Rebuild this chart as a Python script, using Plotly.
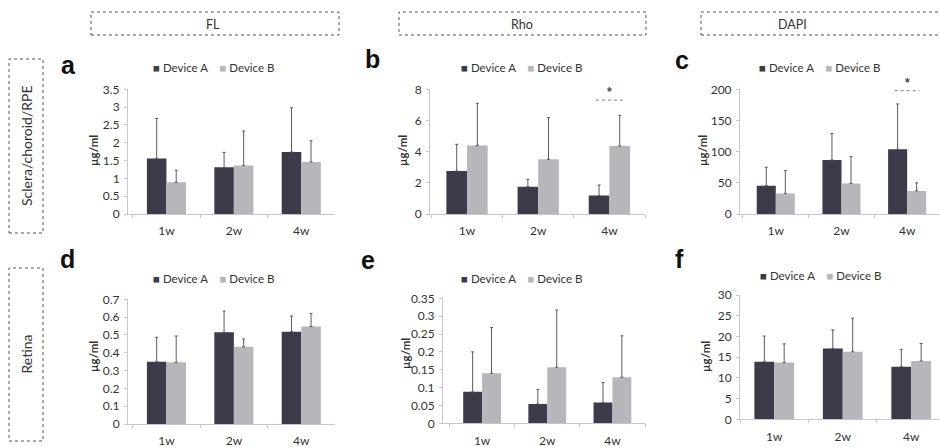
import plotly.graph_objects as go

W, H = 940, 447

weeks = ["1w", "2w", "4w"]
series_names = ["Device A", "Device B"]

# panel a: FL, sclera/choroid/RPE
a_A = [1.56, 1.31, 1.74]
a_A_sd = [1.12, 0.42, 1.24]
a_B = [0.89, 1.36, 1.46]
a_B_sd = [0.34, 0.97, 0.60]
# panel b: Rho, sclera/choroid/RPE
b_A = [2.76, 1.75, 1.18]
b_A_sd = [1.71, 0.47, 0.68]
b_B = [4.39, 3.51, 4.36]
b_B_sd = [2.71, 2.67, 1.97]
# panel c: DAPI, sclera/choroid/RPE
c_A = [45.5, 86.6, 103.7]
c_A_sd = [29.5, 42.4, 72.8]
c_B = [33.0, 49.0, 37.0]
c_B_sd = [36.5, 43.0, 13.0]
# panel d: FL, retina
d_A = [0.35, 0.515, 0.518]
d_A_sd = [0.137, 0.119, 0.088]
d_B = [0.346, 0.434, 0.547]
d_B_sd = [0.148, 0.043, 0.074]
# panel e: Rho, retina
e_A = [0.088, 0.054, 0.058]
e_A_sd = [0.112, 0.041, 0.056]
e_B = [0.14, 0.157, 0.129]
e_B_sd = [0.128, 0.160, 0.116]
# panel f: DAPI, retina
f_A = [13.9, 17.1, 12.7]
f_A_sd = [6.2, 4.5, 4.2]
f_B = [13.7, 16.3, 14.1]
f_B_sd = [4.5, 8.1, 4.2]

col_headers = ["FL", "Rho", "DAPI"]
row_headers = ["Sclera/choroid/RPE", "Retina"]
panel_letters = ["a", "b", "c", "d", "e", "f"]
y_title = "µg/ml"

# significance marks: (panel index, category, height)
sig_marks = [(1, "4w", 7.3), (2, "4w", 198)]

COL_A = "#3d3b4a"
COL_B = "#b6b6bb"
TXT = "#333333"
AX = "#c9c3da"
FONT = "Lato"

panels = [
    dict(A=a_A, As=a_A_sd, B=a_B, Bs=a_B_sd, ymax=3.5, dtick=0.5,
         xpx=(128, 335), xr=(-0.57, 2.5), ypx=(214, 89.3),
         letter=(68, 65), legend=(213, 68), title=(93, 151)),
    dict(A=b_A, As=b_A_sd, B=b_B, Bs=b_B_sd, ymax=8, dtick=2,
         xpx=(430, 645), xr=(-0.52, 2.5), ypx=(214, 89.3),
         letter=(372, 59), legend=(521, 68), title=(402, 151)),
    dict(A=c_A, As=c_A_sd, B=c_B, Bs=c_B_sd, ymax=200, dtick=50,
         xpx=(740, 940), xr=(-0.545, 2.5), ypx=(214, 89.3),
         letter=(682, 60), legend=(819, 67), title=(702, 151)),
    dict(A=d_A, As=d_A_sd, B=d_B, Bs=d_B_sd, ymax=0.7, dtick=0.1,
         xpx=(128, 335), xr=(-0.57, 2.5), ypx=(424, 299.3),
         letter=(67, 259), legend=(213, 278), title=(93, 357)),
    dict(A=e_A, As=e_A_sd, B=e_B, Bs=e_B_sd, ymax=0.35, dtick=0.05,
         xpx=(443, 645), xr=(-0.6, 2.5), ypx=(423.3, 298.3),
         letter=(368, 260), legend=(521, 278), title=(405, 354)),
    dict(A=f_A, As=f_A_sd, B=f_B, Bs=f_B_sd, ymax=30, dtick=5,
         xpx=(740, 940), xr=(-0.5, 2.42), ypx=(419.3, 295),
         letter=(679, 259), legend=(820, 275), title=(705, 357)),
]


def px(x):
    return x / W


def py(y):
    return 1 - y / H


fig = go.Figure()
layout = {}
annotations = []
shapes = []

for i, p in enumerate(panels):
    n = "" if i == 0 else str(i + 1)
    xa, ya = "x" + n, "y" + n
    for name, vals, sds, col in [(series_names[0], p["A"], p["As"], COL_A),
                                 (series_names[1], p["B"], p["Bs"], COL_B)]:
        fig.add_trace(go.Bar(
            x=weeks, y=vals, name=name, marker_color=col, marker_line_width=0,
            xaxis=xa, yaxis=ya, showlegend=False,
            error_y=dict(type="data", symmetric=False, array=sds,
                         arrayminus=[0] * len(sds), color="#5a5a66",
                         thickness=1, width=1.5),
        ))
    layout["xaxis" + n] = dict(
        domain=[px(p["xpx"][0]), px(p["xpx"][1])], anchor=ya,
        range=list(p["xr"]), type="category", showline=True, linecolor=AX,
        linewidth=1, ticks="outside", tickson="boundaries", ticklen=3,
        tickcolor=AX, tickfont=dict(family=FONT, size=12, color=TXT),
        ticklabelstandoff=6, showgrid=False, zeroline=False, fixedrange=True,
        automargin=False)
    layout["yaxis" + n] = dict(
        domain=[py(p["ypx"][0]), py(p["ypx"][1])], anchor=xa,
        range=[0, p["ymax"]], dtick=p["dtick"], showline=True, linecolor=AX,
        linewidth=1, ticks="outside", ticklen=3, tickcolor=AX,
        tickfont=dict(family=FONT, size=12, color=TXT), ticklabelstandoff=2,
        showgrid=False, zeroline=False, fixedrange=True, automargin=False)
    # panel letter
    annotations.append(dict(
        x=px(p["letter"][0]), y=py(p["letter"][1]), xref="paper", yref="paper",
        text="<b>%s</b>" % panel_letters[i], showarrow=False,
        font=dict(family="Liberation Sans", size=25, color="#111111"),
        xanchor="center", yanchor="middle"))
    # legend
    leg = ("<span style='color:%s'>■</span> %s&nbsp;&nbsp;&nbsp;&nbsp;"
           "<span style='color:%s'>■</span> %s") % (COL_A, series_names[0],
                                                    COL_B, series_names[1])
    annotations.append(dict(
        x=px(p["legend"][0]), y=py(p["legend"][1]), xref="paper", yref="paper",
        text=leg, showarrow=False, font=dict(family=FONT, size=11.5, color=TXT),
        xanchor="center", yanchor="middle"))
    # y axis title
    annotations.append(dict(
        x=px(p["title"][0]), y=py(p["title"][1]), xref="paper", yref="paper",
        text="<b>%s</b>" % y_title, textangle=-90, showarrow=False,
        font=dict(family=FONT, size=11.5, color=TXT),
        xanchor="center", yanchor="middle"))

# significance marks
for idx, cat, h in sig_marks:
    n = "" if idx == 0 else str(idx + 1)
    ci = weeks.index(cat)
    shapes.append(dict(type="line", xref="x" + n, yref="y" + n,
                       x0=ci - 0.19, x1=ci + 0.19, y0=h, y1=h,
                       line=dict(color="#8a9ab8", width=1.2, dash="dot")))
    annotations.append(dict(x=ci, y=h, xref="x" + n, yref="y" + n,
                            text="<b>*</b>", showarrow=False, yshift=8,
                            font=dict(family="Liberation Sans", size=12,
                                      color="#3a4a66"),
                            xanchor="center", yanchor="middle"))

# column header boxes: (box left, box right, text centre)
col_boxes = [(91, 339, 213), (399, 646, 522), (701, 946, 792)]
for (x0, x1, xc), t in zip(col_boxes, col_headers):
    shapes.append(dict(type="rect", xref="paper", yref="paper",
                       x0=px(x0), x1=px(x1), y0=py(35), y1=py(12),
                       line=dict(color="#555555", width=1, dash="dot")))
    annotations.append(dict(x=px(xc), y=py(24), xref="paper", yref="paper",
                            text=t, showarrow=False,
                            font=dict(family=FONT, size=12.5, color=TXT),
                            xanchor="center", yanchor="middle"))

# row header boxes
row_boxes = [(59, 233), (268, 441)]
for (y0, y1), t in zip(row_boxes, row_headers):
    shapes.append(dict(type="rect", xref="paper", yref="paper",
                       x0=px(9), x1=px(43), y0=py(y1), y1=py(y0),
                       line=dict(color="#555555", width=1, dash="dot")))
    annotations.append(dict(x=px(26), y=py((y0 + y1) / 2), xref="paper",
                            yref="paper", text=t, textangle=-90,
                            showarrow=False,
                            font=dict(family=FONT, size=14, color=TXT),
                            xanchor="center", yanchor="middle"))

fig.update_layout(
    width=W, height=H, margin=dict(l=0, r=0, t=0, b=0, autoexpand=False),
    paper_bgcolor="white", plot_bgcolor="white",
    barmode="group", bargap=0.42, bargroupgap=0,
    annotations=annotations, shapes=shapes, showlegend=False,
    font=dict(family=FONT, color=TXT),
    **layout,
)

fig.write_html("out.html", config={"displayModeBar": False},
               post_script="document.body.style.margin='0';"
                           "document.body.style.overflow='hidden';")
